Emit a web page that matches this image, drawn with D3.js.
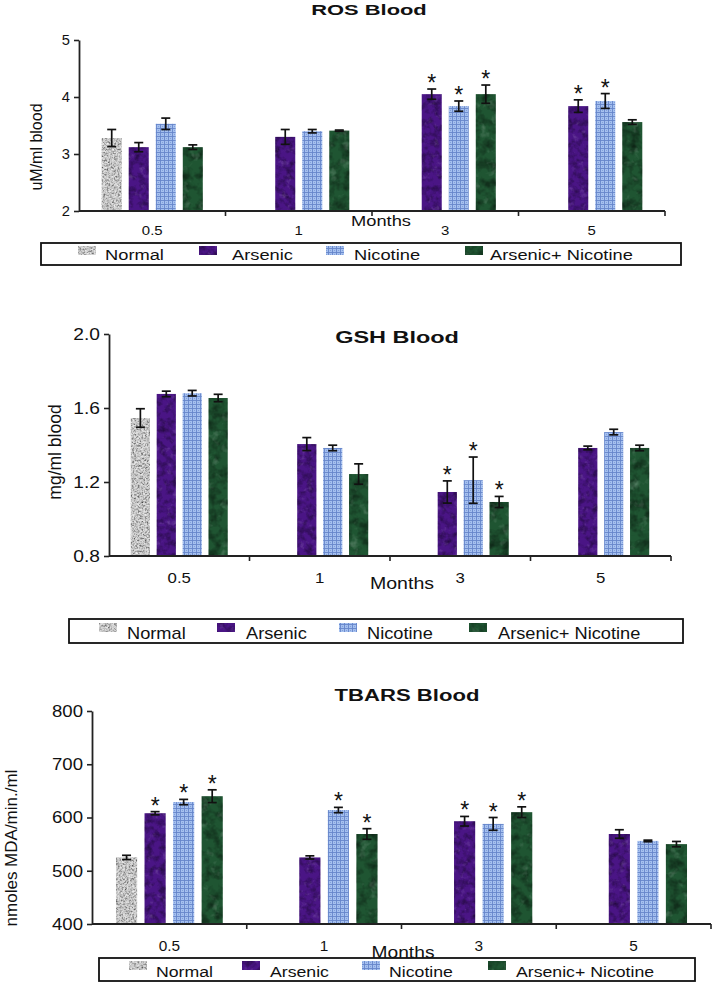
<!DOCTYPE html>
<html><head><meta charset="utf-8">
<script src="https://cdn.jsdelivr.net/npm/d3@7"></script>
<style>
html,body{margin:0;padding:0;background:#fff;}
svg{display:block;font-family:"Liberation Sans",Arial,sans-serif;}
</style></head>
<body>
<svg id="chart" width="714" height="986"></svg>
<script>
// ---------- DATA ----------
const months = ["0.5", "1", "3", "5"];
const seriesNames = ["Normal", "Arsenic", "Nicotine", "Arsenic+ Nicotine"];

// ROS Blood (uM/ml blood); rows = series, columns = months
const rosMean = [
  [3.28, null, null, null],
  [3.12, 3.30, 4.05, 3.84],
  [3.53, 3.40, 3.84, 3.93],
  [3.12, 3.41, 4.05, 3.56]
];
const rosErr = [
  [0.15, null, null, null],
  [0.08, 0.13, 0.09, 0.11],
  [0.10, 0.03, 0.09, 0.13],
  [0.04, 0.01, 0.16, 0.04]
];
const rosStar = [
  [0, 0, 0, 0],
  [0, 0, 1, 1],
  [0, 0, 1, 1],
  [0, 0, 1, 0]
];
const rosTicks = [2, 3, 4, 5];

// GSH Blood (mg/ml blood)
const gshMean = [
  [1.546, null, null, null],
  [1.676, 1.405, 1.146, 1.384],
  [1.680, 1.384, 1.210, 1.470],
  [1.654, 1.243, 1.092, 1.384]
];
const gshErr = [
  [0.05, null, null, null],
  [0.015, 0.035, 0.06, 0.01],
  [0.015, 0.015, 0.125, 0.015],
  [0.02, 0.055, 0.03, 0.015]
];
const gshStar = [
  [0, 0, 0, 0],
  [0, 0, 1, 0],
  [0, 0, 1, 0],
  [0, 0, 1, 0]
];
const gshTicks = [0.8, 1.2, 1.6, 2.0];

// TBARS Blood (nmoles MDA/min./ml)
const tbarsMean = [
  [525, null, null, null],
  [608, 525, 593, 569],
  [629, 614, 588, 556],
  [640, 569, 610, 550]
];
const tbarsErr = [
  [4, null, null, null],
  [3, 3, 9, 8],
  [5, 5, 12, 1.5],
  [12, 10, 10, 5]
];
const tbarsStar = [
  [0, 0, 0, 0],
  [1, 0, 1, 0],
  [1, 1, 1, 0],
  [1, 1, 1, 0]
];
const tbarsTicks = [400, 500, 600, 700, 800];

// ---------- STYLE / LAYOUT ----------
const svg = d3.select("#chart");
const defs = svg.append("defs");

function noiseFilter(id, freq, dk, db, lk, lb, seed) {
  const f = defs.append("filter").attr("id", id)
    .attr("x", 0).attr("y", 0).attr("width", 1).attr("height", 1)
    .attr("color-interpolation-filters", "sRGB");
  f.append("feTurbulence").attr("type", "fractalNoise")
    .attr("baseFrequency", freq).attr("numOctaves", 3).attr("seed", seed).attr("result", "n");
  f.append("feColorMatrix").attr("in", "n").attr("type", "matrix")
    .attr("values", `0 0 0 0 0  0 0 0 0 0  0 0 0 0 0  ${dk} 0 0 0 ${db}`).attr("result", "a");
  f.append("feComposite").attr("in", "a").attr("in2", "SourceGraphic").attr("operator", "in").attr("result", "c");
  f.append("feColorMatrix").attr("in", "n").attr("type", "matrix")
    .attr("values", `0 0 0 0 1  0 0 0 0 1  0 0 0 0 1  0 ${lk} 0 0 ${lb}`).attr("result", "w");
  f.append("feComposite").attr("in", "w").attr("in2", "SourceGraphic").attr("operator", "in").attr("result", "cw");
  const m = f.append("feMerge");
  m.append("feMergeNode").attr("in", "SourceGraphic");
  m.append("feMergeNode").attr("in", "c");
  m.append("feMergeNode").attr("in", "cw");
}
noiseFilter("texGrey", 0.55, 1.4, -0.6, 1.5, -0.58, 4);
noiseFilter("texPurple", 0.15, 1.0, -0.42, 0.5, -0.3, 7);
noiseFilter("texGreen", 0.1, 1.1, -0.45, 0.6, -0.36, 11);

// Nicotine woven grid pattern
const pat = defs.append("pattern").attr("id", "patNic").attr("patternUnits", "userSpaceOnUse")
  .attr("width", 4).attr("height", 4);
pat.append("rect").attr("width", 4).attr("height", 4).attr("fill", "#a5c0ef");
pat.append("path").attr("d", "M0 0.5H4M0.5 0V4").attr("stroke", "#6686cb").attr("stroke-width", 0.9);
pat.append("rect").attr("x", 2).attr("y", 2).attr("width", 1).attr("height", 1).attr("fill", "#82a0da");

const seriesFill = ["#cbcbcb", "#4a1585", "url(#patNic)", "#1f5532"];
const seriesFilter = ["url(#texGrey)", "url(#texPurple)", null, "url(#texGreen)"];

function txt(g, x, y, s, o) {
  return g.append("text")
    .attr("transform", `translate(${x},${y}) scale(${o.sx || 1},1)`)
    .attr("text-anchor", o.anchor || "start")
    .style("font-size", o.size + "px")
    .style("font-weight", o.bold ? "bold" : "normal")
    .attr("fill", "#111")
    .text(s);
}

function panel(cfg) {
  const g = svg.append("g");
  const x = d3.scaleBand().domain(months).range([cfg.left, cfg.right]).padding(0);
  const bw = x.bandwidth();
  const xs = d3.scaleBand().domain(seriesNames).range([bw * 0.155, bw * 0.845]).paddingInner(0.26).paddingOuter(0);
  const y = d3.scaleLinear().domain(cfg.domain).range([cfg.bottom, cfg.top]);

  // title
  txt(g, cfg.titleX, cfg.titleY, cfg.title, { size: cfg.titleSize, bold: true, anchor: "middle", sx: cfg.titleSx });

  // bars
  seriesNames.forEach((s, si) => {
    const rows = months.map((m, mi) => ({ m, v: cfg.mean[si][mi], e: cfg.err[si][mi], star: cfg.star[si][mi] }))
      .filter(d => d.v != null);
    const sg = g.append("g");
    sg.selectAll("rect").data(rows).join("rect")
      .attr("x", d => x(d.m) + xs(s))
      .attr("width", xs.bandwidth())
      .attr("y", d => y(d.v))
      .attr("height", d => y(cfg.domain[0]) - y(d.v))
      .attr("fill", seriesFill[si])
      .attr("filter", seriesFilter[si]);
    // error bars
    const eg = sg.selectAll("g.err").data(rows).join("g").attr("class", "err")
      .attr("stroke", "#111").attr("stroke-width", 1.7).attr("fill", "none");
    const cx = d => x(d.m) + xs(s) + xs.bandwidth() / 2;
    eg.append("line").attr("x1", cx).attr("x2", cx).attr("y1", d => y(d.v + d.e)).attr("y2", d => y(d.v - d.e));
    eg.append("line").attr("x1", d => cx(d) - 4.5).attr("x2", d => cx(d) + 4.5).attr("y1", d => y(d.v + d.e)).attr("y2", d => y(d.v + d.e));
    eg.append("line").attr("x1", d => cx(d) - 4.5).attr("x2", d => cx(d) + 4.5).attr("y1", d => y(d.v - d.e)).attr("y2", d => y(d.v - d.e));
    // significance stars
    rows.filter(d => d.star).forEach(d => {
      txt(g, cx(d), y(d.v + d.e) + 2, "*", { size: 23, anchor: "middle" });
    });
  });

  // y axis
  const ya = g.append("g").attr("transform", `translate(${cfg.left},0)`)
    .call(d3.axisLeft(y).tickValues(cfg.ticks).tickSize(5).tickSizeOuter(0).tickFormat(cfg.fmt));
  ya.select(".domain").attr("stroke", "#222").attr("stroke-width", 1.8);
  ya.selectAll(".tick line").attr("stroke", "#222").attr("stroke-width", 1.6);
  ya.selectAll(".tick text").remove();
  cfg.ticks.forEach(t => {
    txt(g, cfg.left - 9, y(t) + cfg.tickSize * 0.36, cfg.fmt(t), { size: cfg.tickSize, anchor: "end", sx: cfg.tickSx });
  });

  // x axis
  g.append("line").attr("x1", cfg.left).attr("x2", cfg.right).attr("y1", cfg.bottom).attr("y2", cfg.bottom)
    .attr("stroke", "#222").attr("stroke-width", 1.8);
  months.forEach(m => {
    const xe = x(m) + bw;
    g.append("line").attr("x1", xe).attr("x2", xe).attr("y1", cfg.bottom).attr("y2", cfg.bottom + 5)
      .attr("stroke", "#222").attr("stroke-width", 1.6);
    txt(g, x(m) + bw / 2, cfg.catY, m, { size: cfg.catSize, anchor: "middle", sx: cfg.catSx });
  });
  txt(g, cfg.monthsX, cfg.monthsY, "Months", { size: cfg.monthsSize, anchor: "middle", sx: cfg.monthsSx });

  // y title
  g.append("text")
    .attr("transform", `translate(${cfg.yTitleX},${cfg.yTitleY}) rotate(-90)`)
    .attr("text-anchor", "middle").attr("dominant-baseline", "central")
    .style("font-size", cfg.yTitleSize + "px").attr("fill", "#111")
    .text(cfg.yTitle);

  // legend
  const L = cfg.legend;
  g.append("rect").attr("x", L.x0).attr("y", L.y0).attr("width", L.x1 - L.x0).attr("height", L.y1 - L.y0)
    .attr("fill", "#fff").attr("stroke", "#111").attr("stroke-width", 1.8);
  seriesNames.forEach((s, si) => {
    g.append("rect").attr("x", L.sw[si]).attr("y", L.swY).attr("width", 18).attr("height", 9)
      .attr("fill", seriesFill[si]).attr("filter", seriesFilter[si]);
    txt(g, L.tx[si], L.textY, s, { size: L.size, sx: L.sx });
  });
}

panel({
  title: "ROS Blood", titleX: 369, titleY: 15, titleSize: 15, titleSx: 1.46,
  left: 79, right: 665, top: 40, bottom: 211, domain: [2, 5], ticks: rosTicks, fmt: d3.format("d"),
  tickSize: 14, tickSx: 1.05,
  mean: rosMean, err: rosErr, star: rosStar,
  catY: 235, catSize: 13, catSx: 1.15,
  monthsX: 381, monthsY: 226, monthsSize: 15, monthsSx: 1.22,
  yTitle: "uM/ml blood", yTitleX: 36, yTitleY: 147, yTitleSize: 16,
  legend: { x0: 41, x1: 681, y0: 243, y1: 265, sw: [78, 199, 326, 465], tx: [105, 232, 354, 490], swY: 246, textY: 260, size: 15, sx: 1.22 }
});

panel({
  title: "GSH Blood", titleX: 397, titleY: 343, titleSize: 17, titleSx: 1.38,
  left: 109, right: 671, top: 334, bottom: 556, domain: [0.8, 2.0], ticks: gshTicks, fmt: d3.format(".1f"),
  tickSize: 16, tickSx: 1.2,
  mean: gshMean, err: gshErr, star: gshStar,
  catY: 583, catSize: 15, catSx: 1.12,
  monthsX: 402, monthsY: 589, monthsSize: 17, monthsSx: 1.15,
  yTitle: "mg/ml blood", yTitleX: 55, yTitleY: 452, yTitleSize: 17.5,
  legend: { x0: 69, x1: 683, y0: 619, y1: 643, sw: [99, 217, 339, 469], tx: [127, 246, 367, 498], swY: 623, textY: 639, size: 16, sx: 1.14 }
});

panel({
  title: "TBARS Blood", titleX: 407, titleY: 701, titleSize: 17, titleSx: 1.3,
  left: 92, right: 711, top: 711, bottom: 924, domain: [400, 800], ticks: tbarsTicks, fmt: d3.format("d"),
  tickSize: 16, tickSx: 1.16,
  mean: tbarsMean, err: tbarsErr, star: tbarsStar,
  catY: 951, catSize: 14, catSx: 1.1,
  monthsX: 403, monthsY: 958, monthsSize: 17, monthsSx: 1.13,
  yTitle: "nmoles MDA/min./ml", yTitleX: 11, yTitleY: 848, yTitleSize: 17,
  legend: { x0: 99, x1: 695, y0: 958, y1: 981, sw: [129, 242, 362, 488], tx: [156, 270, 389, 516], swY: 961, textY: 977, size: 15, sx: 1.18 }
});
</script>
</body></html>
